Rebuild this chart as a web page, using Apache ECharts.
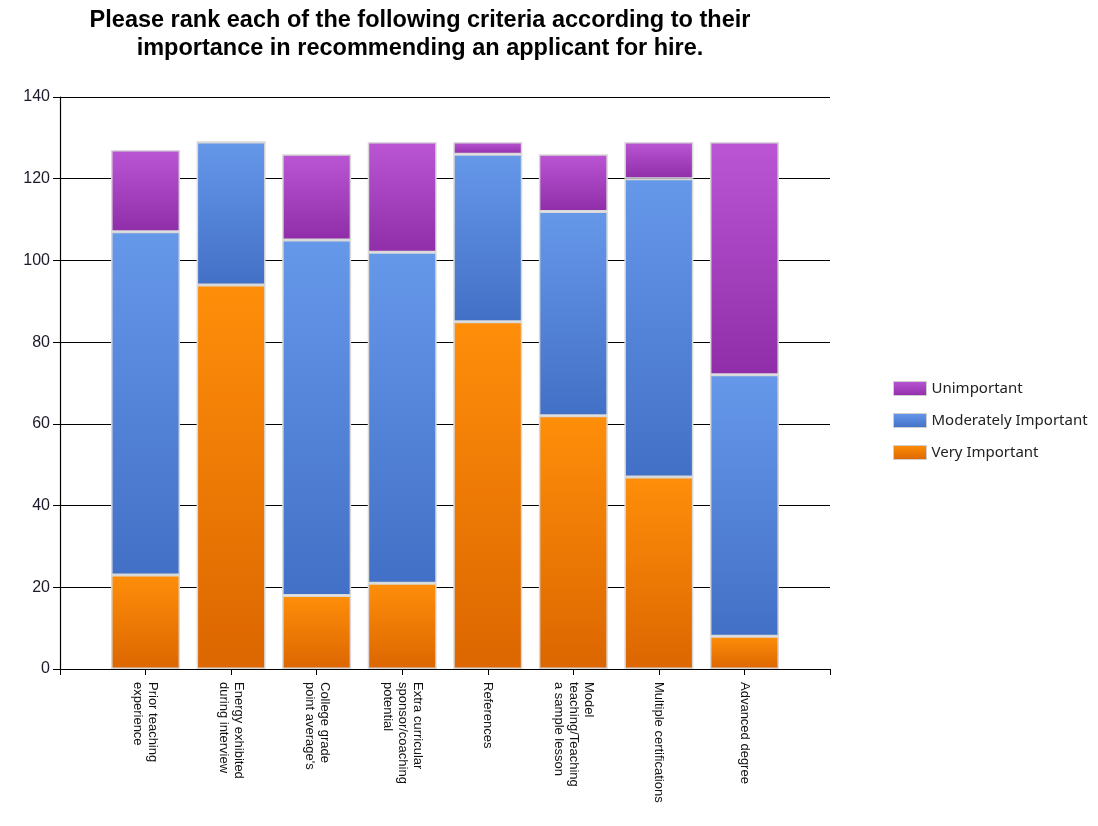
<!DOCTYPE html>
<html>
<head>
<meta charset="utf-8">
<title>Hiring criteria ranking</title>
<script src="https://cdn.jsdelivr.net/npm/echarts@6/dist/echarts.min.js"></script>
<style>
  html, body { margin: 0; padding: 0; background: #fff; }
  #chart { width: 1098px; height: 826px; }
</style>
</head>
<body>
<div id="chart"></div>
<script>
// Survey criteria (x axis)
const categories = [
  'Prior teaching\nexperience',
  'Energy exhibited\nduring interview',
  "College grade\npoint average's",
  'Extra curricular\nsponsor/coaching\npotential',
  'References',
  'Model\nteaching/Teaching\na sample lesson',
  'Multiple certifications',
  'Advanced degree'
];

// Response counts per criterion
const veryImportant       = [23, 94, 18, 21, 85, 62, 47, 8];
const moderatelyImportant = [84, 35, 87, 81, 41, 50, 73, 64];
const unimportant         = [20, 0, 21, 27, 3, 14, 9, 57];

const yTicks = { min: 0, max: 140, interval: 20 };

// Pad the category list so bars sit on integer ticks with an empty slot at each end
const paddedCats = [''].concat(categories, ['']);
const pad = arr => [null].concat(arr, [null]);

function grad(top, bottom) {
  return new echarts.graphic.LinearGradient(0, 0, 0, 1, [
    { offset: 0, color: top },
    { offset: 1, color: bottom }
  ]);
}

const barStyle = (top, bottom) => ({
  color: grad(top, bottom),
  borderColor: '#d8d8d8',
  borderWidth: 1.5
});

const chart = echarts.init(document.getElementById('chart'), null, { renderer: 'canvas' });

const option = {
  backgroundColor: '#ffffff',
  animation: false,
  title: {
    text: 'Please rank each of the following criteria according to their\nimportance in recommending an applicant for hire.',
    left: 415,
    top: 2,
    textAlign: 'center',
    textStyle: {
      fontFamily: 'Liberation Sans, Arial, sans-serif',
      fontWeight: 'bold',
      fontSize: 23.5,
      lineHeight: 28,
      color: '#000'
    }
  },
  legend: {
    orient: 'vertical',
    left: 888,
    top: 376,
    icon: 'rect',
    itemWidth: 33,
    itemHeight: 14,
    itemGap: 17,
    data: ['Unimportant', 'Moderately Important', 'Very Important'],
    textStyle: {
      fontFamily: 'Noto Sans, DejaVu Sans, sans-serif',
      fontSize: 15,
      color: '#222'
    },
    itemStyle: { borderColor: '#cfcfcf', borderWidth: 1 }
  },
  grid: {
    left: 60,
    right: 268,
    top: 97,
    bottom: 157,
    containLabel: false
  },
  xAxis: {
    type: 'category',
    data: paddedCats,
    boundaryGap: false,
    axisLine: { lineStyle: { color: '#000', width: 1.2 } },
    axisTick: { show: true, length: 6, lineStyle: { color: '#000' }, alignWithLabel: true },
    splitLine: { show: false },
    axisLabel: {
      rotate: -90,
      interval: 0,
      margin: 13,
      fontFamily: 'Liberation Sans, Arial, sans-serif',
      fontSize: 13,
      lineHeight: 15,
      color: '#111'
    }
  },
  yAxis: {
    type: 'value',
    min: yTicks.min,
    max: yTicks.max,
    interval: yTicks.interval,
    axisLine: { show: true, lineStyle: { color: '#000', width: 1.2 } },
    axisTick: { show: true, length: 7, lineStyle: { color: '#000' } },
    splitLine: { show: true, lineStyle: { color: '#000', width: 1.2 } },
    axisLabel: {
      margin: 10,
      fontFamily: 'Liberation Sans, Arial, sans-serif',
      fontSize: 16,
      color: '#1a1a2a'
    }
  },
  series: [
    {
      name: 'Very Important',
      type: 'bar',
      stack: 'total',
      barWidth: 69,
      data: pad(veryImportant),
      itemStyle: barStyle('#ff8e0a', '#dc6600')
    },
    {
      name: 'Moderately Important',
      type: 'bar',
      stack: 'total',
      barWidth: 69,
      data: pad(moderatelyImportant),
      itemStyle: barStyle('#6698ea', '#4270c6')
    },
    {
      name: 'Unimportant',
      type: 'bar',
      stack: 'total',
      barWidth: 69,
      data: pad(unimportant),
      itemStyle: barStyle('#bb55d4', '#8f2ea8')
    }
  ]
};

chart.setOption(option);
</script>
</body>
</html>
